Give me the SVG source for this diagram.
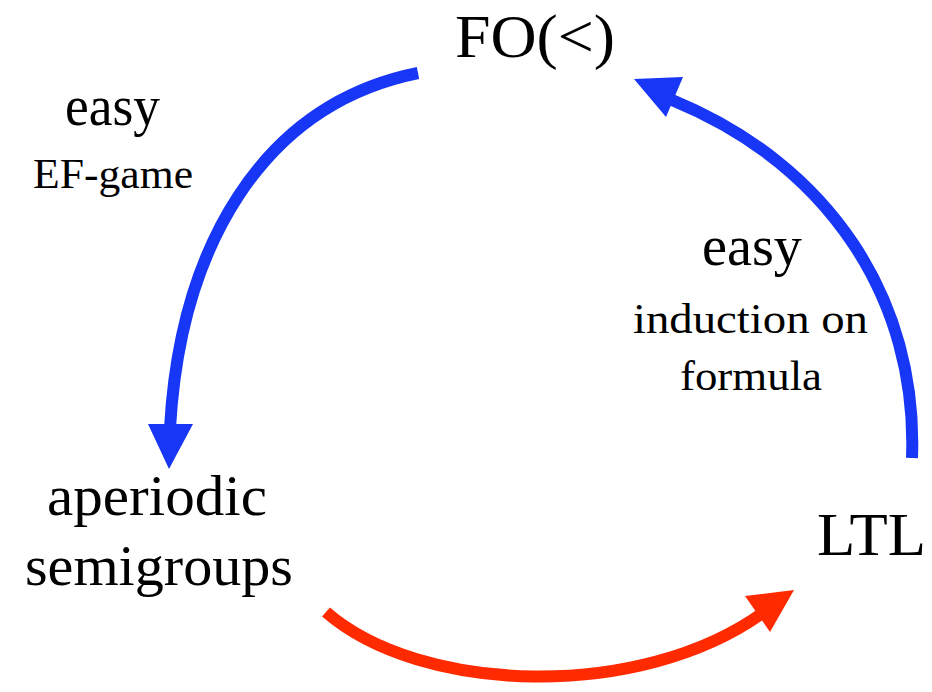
<svg xmlns="http://www.w3.org/2000/svg" width="932" height="692" viewBox="0 0 932 692">
<style>
text{font-family:"Liberation Serif","DejaVu Serif",serif;fill:#000}
.big{font-size:62px}
.mid{font-size:56px}
.small{font-size:42px}
.blue{fill:none;stroke:#1736f5;stroke-width:12}
.red{fill:none;stroke:#ff2a00;stroke-width:12}
.bh{fill:#1736f5}
.rh{fill:#ff2a00}
</style>
<rect width="932" height="692" fill="#fff"/>
<g id="connectors">
<path class="blue" d="M418,73 C260,105 180,250 170,428"/>
<polygon class="bh" points="148,424 193,424 169,469"/>
<path class="blue" d="M912,458 C918,300 830,165 672,100"/>
<polygon class="bh" points="634,79 683,77 666,117"/>
<path class="red" d="M326,612 C420,694 640,702 764,612"/>
<polygon class="rh" points="794,590 745,596 770,632"/>
</g>
<g id="fo"><text class="big" x="455" y="57" textLength="160" lengthAdjust="spacingAndGlyphs">FO(&lt;)</text></g>
<g id="label-ef"><text class="mid" x="65" y="125" textLength="95" lengthAdjust="spacingAndGlyphs">easy</text><text class="small" x="33" y="188" textLength="160" lengthAdjust="spacingAndGlyphs">EF-game</text></g>
<g id="label-induction"><text class="mid" x="702" y="265" textLength="100" lengthAdjust="spacingAndGlyphs">easy</text><text class="small" x="633" y="333" textLength="235" lengthAdjust="spacingAndGlyphs">induction on</text><text class="small" x="680" y="390" textLength="142" lengthAdjust="spacingAndGlyphs">formula</text></g>
<g id="aperiodic"><text class="mid" x="47" y="515" textLength="220" lengthAdjust="spacingAndGlyphs">aperiodic</text><text class="mid" x="25" y="585" textLength="268" lengthAdjust="spacingAndGlyphs">semigroups</text></g>
<g id="ltl"><text class="big" x="817" y="555" textLength="109" lengthAdjust="spacingAndGlyphs">LTL</text></g>
</svg>
